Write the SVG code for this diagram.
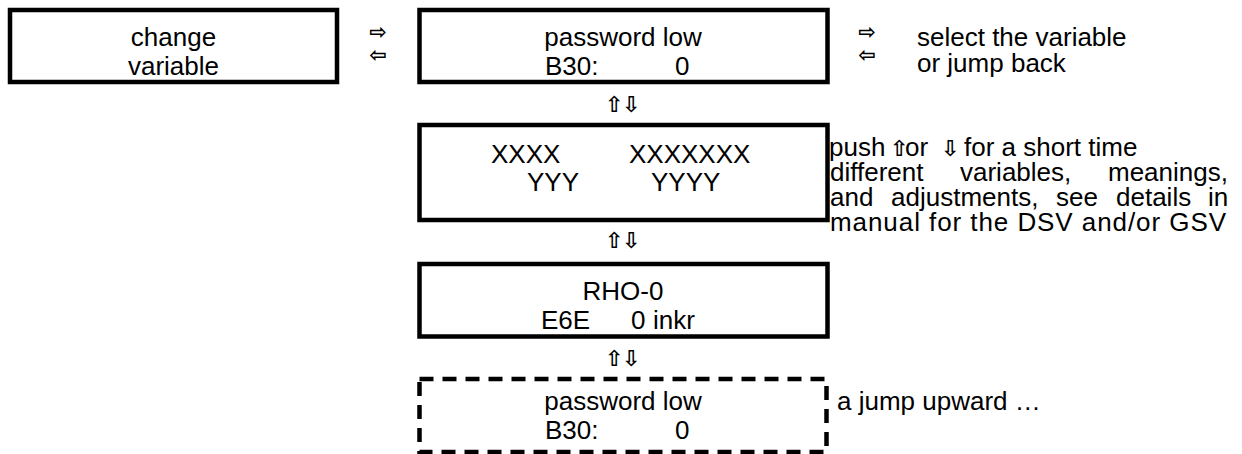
<svg xmlns="http://www.w3.org/2000/svg" width="1242" height="454" viewBox="0 0 1242 454">
<style>
.box{fill:none;stroke:#000;stroke-width:4.5}
.dash{fill:none;stroke:#000;stroke-width:4.5;stroke-dasharray:14 9}
.t{font-family:"Liberation Sans",Arial,sans-serif;font-size:26px;fill:#000}
.c{text-anchor:middle}
.ah{font-family:"DejaVu Sans",sans-serif;font-weight:bold;font-size:21px;fill:#000;text-anchor:middle}
.av{font-family:"DejaVu Sans",sans-serif;font-weight:bold;font-size:22px;fill:#000}
</style>
<rect width="1242" height="454" fill="#fff"/>
<g id="node-change">
<rect class="box" x="10" y="10" width="327" height="72"/>
<text class="t c" x="173.5" y="46">change</text>
<text class="t c" x="173.5" y="75">variable</text>
</g>
<g id="node-pw">
<rect class="box" x="419.5" y="10" width="408" height="72"/>
<text class="t c" x="623" y="46">password low</text>
<text class="t" y="75"><tspan x="545">B30:</tspan><tspan x="675">0</tspan></text>
</g>
<g id="node-xy">
<rect class="box" x="419.5" y="125" width="408" height="95"/>
<text class="t" y="163"><tspan x="491">XXXX</tspan><tspan x="629">XXXXXXX</tspan></text>
<text class="t" y="191"><tspan x="527">YYY</tspan><tspan x="651">YYYY</tspan></text>
</g>
<g id="node-rho">
<rect class="box" x="419.5" y="264" width="408" height="72.5"/>
<text class="t c" x="623" y="300">RHO-0</text>
<text class="t" y="329"><tspan x="541">E6E</tspan><tspan x="631">0</tspan><tspan x="653">inkr</tspan></text>
</g>
<g id="node-pw2">
<rect class="dash" x="419.5" y="379" width="407" height="73"/>
<text class="t c" x="623" y="410">password low</text>
<text class="t" y="439"><tspan x="545">B30:</tspan><tspan x="675">0</tspan></text>
</g>
<g id="connectors">
<text class="ah" x="378" y="39">⇨</text>
<text class="ah" x="378" y="62">⇦</text>
<text class="ah" x="867" y="39">⇨</text>
<text class="ah" x="867" y="62">⇦</text>
<text class="av" y="112"><tspan x="605">⇧</tspan><tspan x="622">⇩</tspan></text>
<text class="av" y="248"><tspan x="605">⇧</tspan><tspan x="622">⇩</tspan></text>
<text class="av" y="366"><tspan x="605">⇧</tspan><tspan x="622">⇩</tspan></text>
</g>
<g id="notes">
<text class="t" x="917" y="46">select the variable</text>
<text class="t" x="917" y="72">or jump back</text>
<text class="t" y="156"><tspan x="829">push</tspan><tspan class="av" x="890">⇧</tspan><tspan x="905">or</tspan><tspan class="av" x="941">⇩</tspan><tspan x="964">for a short time</tspan></text>
<text class="t" y="181"><tspan x="830">different</tspan><tspan x="960">variables,</tspan><tspan x="1108">meanings,</tspan></text>
<text class="t" y="206"><tspan x="830">and</tspan><tspan x="891">adjustments,</tspan><tspan x="1056">see</tspan><tspan x="1116">details</tspan><tspan x="1208">in</tspan></text>
<text class="t" x="830" y="231" textLength="396" lengthAdjust="spacing">manual for the DSV and/or GSV</text>
<text class="t" x="837" y="410">a jump upward …</text>
</g>
</svg>
